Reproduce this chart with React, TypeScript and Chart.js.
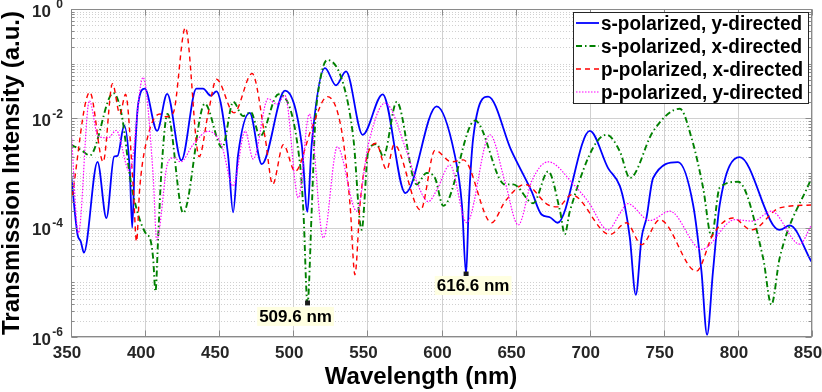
import React, { useEffect, useRef } from 'react';
import { Chart, registerables } from 'chart.js';

Chart.register(...registerables);

// ---------- data ----------
const xTicks = [350, 400, 450, 500, 550, 600, 650, 700, 750, 800, 850];
const yTicks = [1, 1e-2, 1e-4, 1e-6];
const yTickBase = ['10', '10', '10', '10'];
const yTickExp = ['0', '-2', '-4', '-6'];

const legendLabels = [
  's-polarized, y-directed',
  's-polarized, x-directed',
  'p-polarized, x-directed',
  'p-polarized, y-directed',
];

// s-polarized, y-directed
const sYWl = [350, 354.4, 356.6, 358.7, 367.9, 373.9, 379.1, 381.4, 385.9, 389.7, 391.3, 393.1, 395.3, 399.8, 408.1, 414.9, 424.5, 434.6, 439.1, 444.3, 448.1, 456, 459.4, 462.7, 470.6, 478.7, 494.4, 505.7, 509.5, 512.4, 521.4, 528.8, 535.6, 546.8, 560.3, 575.6, 596.7, 609, 613.8, 616.6, 618.4, 621.4, 631.5, 647.3, 660.8, 667.5, 673.1, 678.3, 700.1, 712.4, 720.3, 723.7, 727.1, 731.1, 735, 738.3, 742.8, 759.6, 769.8, 775.4, 779.2, 783.2, 787.7, 801.2, 823.7, 828.2, 835, 849.6];
const sYVal = [1.0e-3, 7.5e-5, 5.6e-5, 3.5e-5, 1.6e-3, 1.5e-4, 2.0e-3, 2.05e-3, 7.4e-3, 1.07e-3, 1.0e-4, 2.1e-3, 1.8e-2, 3.5e-2, 5.9e-3, 2.8e-2, 1.7e-3, 3.5e-2, 3.5e-2, 2.6e-2, 3.1e-2, 2.1e-3, 1.9e-4, 2.1e-3, 1.26e-2, 1.45e-3, 3.2e-2, 3.3e-3, 1.95e-4, 3.3e-3, 8.3e-2, 4.0e-2, 7.2e-2, 5.0e-3, 2.75e-2, 4.3e-4, 1.66e-2, 2.1e-3, 2.6e-4, 1.4e-5, 2.6e-4, 4.4e-3, 2.5e-2, 2.5e-3, 4.6e-4, 1.74e-4, 1.55e-4, 1.23e-4, 5.9e-3, 1.23e-3, 5.8e-4, 2.5e-4, 6.5e-5, 5.9e-6, 6.5e-5, 1.5e-4, 8.1e-4, 1.58e-3, 2.6e-4, 1.6e-5, 1.1e-6, 1.6e-5, 2.6e-4, 1.95e-3, 1.12e-4, 9.1e-5, 1.1e-4, 2.4e-5];

// s-polarized, x-directed
const sXWl = [350, 357.1, 362.7, 378.5, 384.1, 390.8, 400.9, 403.2, 405.4, 407, 408.8, 411, 415.1, 425.7, 440.3, 452, 459.5, 466, 471.3, 477.6, 489.9, 504.6, 506.8, 509.6, 512.4, 514.7, 518, 523, 533.8, 540.5, 546.1, 550.6, 556.3, 560.7, 569.8, 583.2, 589.9, 595.6, 601.2, 622.6, 642.8, 648.4, 661.9, 672, 680, 683.2, 686.6, 711.4, 720.3, 727.1, 742.8, 760.8, 768.7, 776.5, 782.2, 787.7, 800.1, 817, 822.6, 828.2, 849.6];
const sXVal = [3.3e-3, 2.6e-3, 2.1e-3, 2.9e-2, 1.2e-2, 5.8e-4, 7.5e-5, 6.5e-5, 2.8e-5, 6.8e-6, 6.5e-5, 1.07e-3, 1.2e-2, 1.86e-4, 1.85e-2, 2.9e-3, 2.0e-2, 1.1e-2, 1.3e-2, 4.7e-3, 2.75e-2, 1.4e-3, 2.0e-4, 4.1e-6, 2.0e-4, 7.6e-3, 4.8e-2, 1.17e-1, 4.2e-2, 4.4e-3, 9.1e-5, 2.5e-3, 3.4e-3, 2.0e-3, 2.0e-2, 6.2e-4, 1.0e-3, 8.1e-4, 2.5e-4, 9.1e-3, 6.2e-4, 6.2e-4, 2.8e-4, 1.07e-3, 2.0e-4, 7.6e-5, 2.0e-4, 5.0e-3, 2.5e-3, 8.1e-4, 5.8e-3, 1.5e-2, 4.4e-3, 5.4e-4, 6.9e-5, 5.4e-4, 6.9e-4, 2.8e-5, 3.9e-6, 2.8e-5, 8.1e-4];

// p-polarized, x-directed
const pXWl = [350, 362.7, 371.7, 378, 383, 386.8, 392, 394.2, 396.4, 402.1, 410, 414, 419, 427.2, 436.5, 442.5, 448.2, 460, 472.2, 481, 486.1, 493.3, 501.2, 512.4, 523, 532.7, 538.3, 541.6, 545, 548.4, 555.8, 563, 568, 585.9, 595.6, 606.8, 614.7, 633.8, 642.8, 656.3, 672, 678.5, 687.8, 713.6, 724.8, 735, 747.3, 772, 783.2, 796.7, 809.1, 828.2, 849.6];
const pXVal = [2.6e-4, 3.0e-2, 1.6e-3, 4.3e-2, 1.2e-2, 2.75e-2, 5.4e-4, 5.6e-5, 5.4e-4, 5.0e-3, 1.2e-2, 1.07e-2, 1.26e-2, 4.57e-1, 2.0e-3, 1.2e-2, 5.2e-2, 1.26e-2, 6.6e-2, 4.4e-3, 6.2e-4, 3.3e-3, 1.07e-3, 6.6e-3, 2.5e-2, 5.8e-3, 2.6e-4, 1.38e-5, 2.6e-4, 1.4e-3, 3.5e-3, 1.15e-3, 3.3e-3, 2.1e-4, 2.6e-3, 1.6e-3, 1.74e-3, 1.23e-4, 3.0e-4, 6.2e-4, 2.6e-4, 2.4e-4, 4.0e-4, 7.5e-5, 1.23e-4, 4.9e-5, 1.4e-4, 1.6e-5, 7.5e-5, 1.5e-4, 9.1e-5, 2.3e-4, 2.6e-4];

// p-polarized, y-directed
const pYWl = [350, 355, 362.4, 368.3, 375.1, 380.5, 389.5, 398.6, 405.4, 407.8, 415.5, 419.5, 424, 432.4, 442.6, 451.5, 459.4, 467.5, 473, 483, 488.8, 494.4, 503.4, 510.8, 520.3, 529.7, 542.8, 550.6, 561.9, 576.5, 583.2, 591.1, 597, 605.7, 617, 632.7, 642.8, 651.8, 660.8, 672, 690, 699, 712.4, 720.3, 725.5, 740.6, 754, 775.4, 797.9, 810.2, 822.6, 841.7, 849.6];
const pYVal = [7.1e-3, 8.0e-5, 2.1e-2, 4.7e-3, 4.4e-3, 6.0e-3, 1.07e-3, 5.6e-2, 9.3e-4, 6.0e-5, 1.6e-3, 1.9e-3, 1.6e-3, 3.3e-3, 5.8e-3, 3.3e-3, 5.8e-4, 5.8e-3, 1.8e-3, 2.3e-2, 1.8e-2, 2.6e-2, 3.5e-4, 1.2e-2, 6.5e-5, 3.0e-3, 2.0e-4, 3.3e-3, 1.9e-2, 2.5e-3, 7.0e-4, 3.0e-4, 5.0e-4, 1.4e-3, 1.23e-4, 5.0e-3, 7.0e-4, 1.12e-4, 7.0e-4, 1.6e-3, 5.8e-4, 3.0e-4, 9.1e-5, 1.8e-4, 2.75e-4, 1.35e-4, 2.0e-4, 4.0e-5, 1.4e-4, 1.32e-4, 2.0e-4, 5.0e-5, 1.12e-4];

// data tips
const markerWl = [509.6, 616.6];
const markerVal = [4.2e-6, 1.42e-5];
const markerLabels = ['509.6 nm', '616.6 nm'];

// ---------- drawing helpers ----------
const FONT = '"Liberation Sans", Arial, Helvetica, sans-serif';
const labelOffsets = [
  { dx: -12, dy: 13 },
  { dx: 7, dy: 11 },
];

const axesPlugin = {
  id: 'matlabAxes',
  beforeDraw(chart: any) {
    const ctx = chart.ctx;
    ctx.save();
    ctx.fillStyle = '#ffffff';
    ctx.fillRect(0, 0, chart.width, chart.height);
    ctx.restore();
  },
  beforeDatasetsDraw(chart: any) {
    const { ctx, chartArea: a, scales } = chart;
    const xs = scales.x;
    const ys = scales.y;
    const hline = (py: number) => {
      ctx.beginPath();
      ctx.moveTo(a.left, py);
      ctx.lineTo(a.right, py);
      ctx.stroke();
    };
    ctx.save();
    ctx.lineWidth = 1;
    ctx.strokeStyle = '#d0d0d0';
    ctx.setLineDash([1, 2]);
    for (let d = -6; d < 0; d++) {
      for (let m = 1; m < 10; m++) {
        if (m === 1 && d % 2 === 0) continue;
        hline(Math.round(ys.getPixelForValue(m * Math.pow(10, d))) + 0.5);
      }
    }
    ctx.setLineDash([]);
    ctx.strokeStyle = '#d0d0d0';
    yTicks.forEach((v) => hline(Math.round(ys.getPixelForValue(v)) + 0.5));
    xTicks.forEach((v) => {
      const px = Math.round(xs.getPixelForValue(v)) + 0.5;
      ctx.beginPath();
      ctx.moveTo(px, a.top);
      ctx.lineTo(px, a.bottom);
      ctx.stroke();
    });
    ctx.restore();
  },
  afterDatasetsDraw(chart: any) {
    const { ctx, chartArea: a, scales } = chart;
    const xs = scales.x;
    const ys = scales.y;
    ctx.save();
    // box
    ctx.strokeStyle = '#8a8a8a';
    ctx.lineWidth = 1;
    ctx.setLineDash([]);
    const L = Math.round(a.left) + 0.5;
    const R = Math.round(a.right) - 0.5;
    const T = Math.round(a.top) + 0.5;
    const B = Math.round(a.bottom) - 0.5;
    ctx.strokeRect(L, T, R - L, B - T);
    // ticks
    ctx.beginPath();
    xTicks.forEach((v) => {
      const px = Math.round(xs.getPixelForValue(v)) + 0.5;
      ctx.moveTo(px, B); ctx.lineTo(px, B - 6);
      ctx.moveTo(px, T); ctx.lineTo(px, T + 6);
    });
    for (let d = -6; d <= 0; d++) {
      for (let m = 1; m < 10; m++) {
        if (d === 0 && m > 1) break;
        const py = Math.round(ys.getPixelForValue(m * Math.pow(10, d))) + 0.5;
        const len = m === 1 && d % 2 === 0 ? 6 : 3;
        ctx.moveTo(L, py); ctx.lineTo(L + len, py);
        ctx.moveTo(R, py); ctx.lineTo(R - len, py);
      }
    }
    ctx.stroke();

    // x tick labels
    ctx.fillStyle = '#262626';
    ctx.font = `bold 17px ${FONT}`;
    ctx.textAlign = 'center';
    ctx.textBaseline = 'alphabetic';
    xTicks.forEach((v) => {
      ctx.fillText(String(v), xs.getPixelForValue(v) - 4, 358);
    });
    // y tick labels
    yTicks.forEach((v, i) => {
      const py = ys.getPixelForValue(v);
      ctx.font = `bold 17px ${FONT}`;
      ctx.textAlign = 'right';
      ctx.textBaseline = 'middle';
      ctx.fillText(yTickBase[i], 51, py + 3);
      ctx.font = `bold 12px ${FONT}`;
      ctx.fillText(yTickExp[i], 63, py - 4);
    });

    // axis titles
    ctx.fillStyle = '#000000';
    ctx.font = `bold 24px ${FONT}`;
    ctx.textAlign = 'center';
    ctx.textBaseline = 'middle';
    ctx.fillText('Wavelength (nm)', 421, 377);
    ctx.save();
    ctx.translate(12, (a.top + a.bottom) / 2);
    ctx.rotate(-Math.PI / 2);
    ctx.fillText('Transmission Intensity (a.u.)', 0, 0);
    ctx.restore();

    // data tip labels
    markerWl.forEach((w, i) => {
      const px = xs.getPixelForValue(w) + labelOffsets[i].dx;
      const py = ys.getPixelForValue(markerVal[i]) + labelOffsets[i].dy;
      ctx.font = `bold 17px ${FONT}`;
      const tw = ctx.measureText(markerLabels[i]).width;
      ctx.fillStyle = 'rgb(255,255,225)';
      ctx.fillRect(px - tw / 2 - 2, py - 9, tw + 4, 19);
      ctx.fillStyle = '#000000';
      ctx.textAlign = 'center';
      ctx.textBaseline = 'middle';
      ctx.fillText(markerLabels[i], px, py + 1);
    });

    // legend
    const bx = 573.5, by = 12.5, bw = 235, bh = 91;
    ctx.fillStyle = '#ffffff';
    ctx.fillRect(bx, by, bw, bh);
    ctx.strokeStyle = '#262626';
    ctx.lineWidth = 1;
    ctx.strokeRect(bx, by, bw, bh);
    const lfs = 20;
    ctx.font = `bold ${lfs}px ${FONT}`;
    const w0 = ctx.measureText(legendLabels[0]).width;
    const sx = 201 / w0;
    legendLabels.forEach((lab, i) => {
      const ds = chart.data.datasets[i];
      const cy = 23 + i * 23;
      ctx.strokeStyle = ds.borderColor;
      ctx.lineWidth = ds.borderWidth;
      ctx.setLineDash(ds.borderDash || []);
      ctx.beginPath();
      ctx.moveTo(576, cy);
      ctx.lineTo(599, cy);
      ctx.stroke();
      ctx.setLineDash([]);
      ctx.fillStyle = '#000000';
      ctx.font = `bold ${lfs}px ${FONT}`;
      ctx.textAlign = 'left';
      ctx.textBaseline = 'middle';
      ctx.save();
      ctx.translate(601, cy + 1);
      ctx.scale(sx, 1);
      ctx.fillText(lab, 0, 0);
      ctx.restore();
    });
    ctx.restore();
  },
};

const mk = (wl: number[], val: number[]) => wl.map((x, i) => ({ x, y: val[i] }));

export default function App() {
  const ref = useRef<HTMLCanvasElement>(null);
  useEffect(() => {
    const canvas = ref.current;
    if (!canvas) return;
    const chart = new Chart(canvas, {
      type: 'line',
      data: {
        datasets: [
          { label: legendLabels[0], data: mk(sYWl, sYVal), borderColor: '#0000ff', borderWidth: 1.8, borderDash: [], order: 4 },
          { label: legendLabels[1], data: mk(sXWl, sXVal), borderColor: '#008000', borderWidth: 1.9, borderDash: [6, 3, 1.5, 3], order: 3 },
          { label: legendLabels[2], data: mk(pXWl, pXVal), borderColor: '#ff0000', borderWidth: 1.4, borderDash: [5, 4], order: 2 },
          { label: legendLabels[3], data: mk(pYWl, pYVal), borderColor: '#ff00ff', borderWidth: 1.2, borderDash: [1.5, 1.5], order: 1 },
          {
            type: 'scatter', label: 'tips', data: mk(markerWl, markerVal),
            pointStyle: 'rect', pointRadius: 3.5, backgroundColor: '#1a1a1a', borderColor: '#1a1a1a', borderWidth: 0, order: 0,
          } as any,
        ],
      },
      options: {
        responsive: false,
        animation: false,
        devicePixelRatio: 1,
        events: [],
        layout: { padding: { left: 71, right: 10, top: 9, bottom: 55 } },
        elements: {
          point: { radius: 0 },
          line: { cubicInterpolationMode: 'monotone', fill: false, borderCapStyle: 'butt', borderJoinStyle: 'round' },
        },
        plugins: { legend: { display: false }, tooltip: { enabled: false }, title: { display: false } },
        scales: {
          x: { type: 'linear', min: 350, max: 850, display: false },
          y: { type: 'logarithmic', min: 1e-6, max: 1, display: false },
        },
      } as any,
      plugins: [axesPlugin],
    });
    return () => chart.destroy();
  }, []);
  return (
    <div style={{ position: 'absolute', left: 0, top: 0, width: 822, height: 392 }}>
      <canvas ref={ref} width={822} height={392} style={{ display: 'block' }} />
    </div>
  );
}
